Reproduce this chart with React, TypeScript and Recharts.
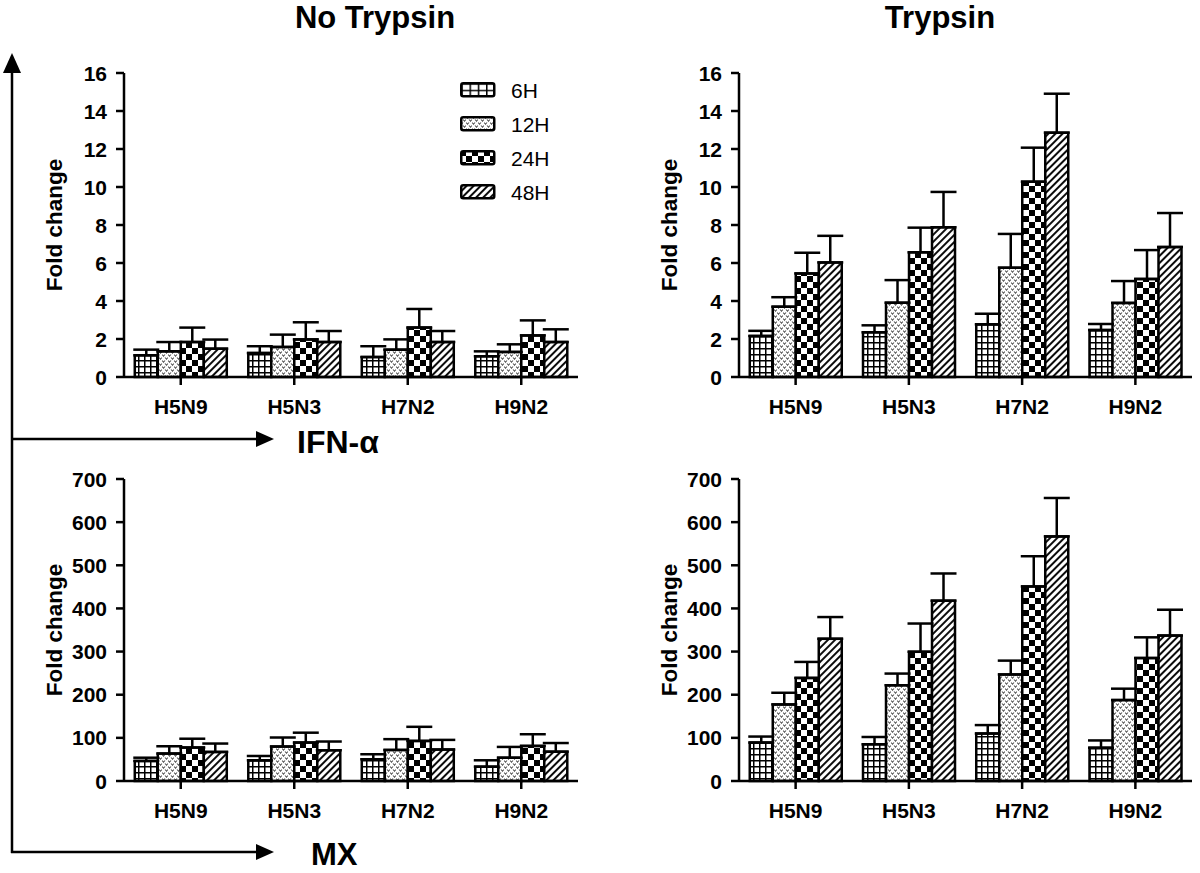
import { BarChart, Bar, XAxis, YAxis, ErrorBar, Legend } from "recharts";

const groups = ["H5N9", "H5N3", "H7N2", "H9N2"];
const times = ["6H", "12H", "24H", "48H"];
const patternIds = ["p6h", "p12h", "p24h", "p48h"];

// rows: 6H, 12H, 24H, 48H; columns follow `groups`
const ifnNoTrypsinMean = [
    [1.14, 1.26, 1.05, 1.09],
    [1.35, 1.58, 1.44, 1.32],
    [1.84, 1.98, 2.6, 2.19],
    [1.49, 1.84, 1.84, 1.84],
];
const ifnNoTrypsinErr = [
    [0.3, 0.36, 0.57, 0.26],
    [0.49, 0.65, 0.54, 0.4],
    [0.76, 0.9, 0.98, 0.79],
    [0.48, 0.58, 0.58, 0.67],
];
const ifnTrypsinMean = [
    [2.16, 2.35, 2.77, 2.47],
    [3.7, 3.91, 5.75, 3.9],
    [5.45, 6.56, 10.28, 5.16],
    [6.03, 7.88, 12.86, 6.84],
];
const ifnTrypsinErr = [
    [0.27, 0.37, 0.56, 0.32],
    [0.5, 1.19, 1.78, 1.15],
    [1.09, 1.3, 1.79, 1.52],
    [1.4, 1.86, 2.05, 1.79],
];
const mxNoTrypsinMean = [
    [46.5, 48, 50.4, 33.3],
    [63.5, 79.8, 72, 54],
    [77.5, 89, 93, 81.4],
    [67.4, 71.3, 72.9, 68],
];
const mxNoTrypsinErr = [
    [7.5, 10, 11.6, 14.7],
    [17, 21, 25, 25],
    [20.5, 23, 32.6, 27],
    [19.4, 20.2, 22.4, 20],
];
const mxTrypsinMean = [
    [89, 85, 110, 77],
    [177.5, 222, 247, 187.5],
    [239, 299.5, 451, 285],
    [329.6, 418, 567, 337],
];
const mxTrypsinErr = [
    [14, 17, 19.6, 17],
    [27, 27, 32, 26.5],
    [37, 65.5, 70, 48],
    [50.4, 63, 89, 60],
];

const ifnTicks = [0, 2, 4, 6, 8, 10, 12, 14, 16];
const mxTicks = [0, 100, 200, 300, 400, 500, 600, 700];

const font = "'Liberation Sans', Arial, Helvetica, sans-serif";

function buildRows(means: number[][], errs: number[][]) {
    return groups.map((g, i) => {
        const row: any = { group: g };
        times.forEach((t, k) => {
            row[t] = means[k][i];
            row["err" + t] = [0, errs[k][i]];
        });
        return row;
    });
}

function Patterns() {
    return (
        <svg width={0} height={0} style={{ position: "absolute" }}>
            <defs>
                <pattern id="p6h" width={6} height={6} patternUnits="userSpaceOnUse">
                    <rect width={6} height={6} fill="#fff" />
                    <path d="M0 0.75H6M0.75 0V6" stroke="#000" strokeWidth={1.5} />
                </pattern>
                <pattern id="p12h" width={6} height={6} patternUnits="userSpaceOnUse">
                    <rect width={6} height={6} fill="#fff" />
                    <path d="M0.3 0.5L1.5 2.4L2.7 0.5M3.3 3.5L4.5 5.4L5.7 3.5" stroke="#222" strokeWidth={1} fill="none" />
                </pattern>
                <pattern id="p24h" width={12} height={12} patternUnits="userSpaceOnUse">
                    <rect width={12} height={12} fill="#fff" />
                    <rect width={6} height={6} fill="#000" />
                    <rect x={6} y={6} width={6} height={6} fill="#000" />
                </pattern>
                <pattern id="p48h" width={5} height={5} patternUnits="userSpaceOnUse" patternTransform="rotate(45)">
                    <rect width={5} height={5} fill="#fff" />
                    <line x1={1} y1={0} x2={1} y2={5} stroke="#000" strokeWidth={1.9} />
                </pattern>
                <pattern id="p6hLegend" width={8.25} height={6.5} patternUnits="userSpaceOnUse" x={1.25} y={1.25}>
                    <rect width={8.25} height={6.5} fill="#fff" />
                    <path d="M0 0.75H8.25M0.75 0V6.5" stroke="#000" strokeWidth={1.5} />
                </pattern>
            </defs>
        </svg>
    );
}

function renderLegend() {
    return (
        <div style={{ fontFamily: font }}>
            {times.map((t, k) => (
                <div key={t} style={{ display: "flex", alignItems: "center", height: 34 }}>
                    <svg width={36} height={16}>
                        <rect
                            x={1.25}
                            y={1.25}
                            width={33}
                            height={13}
                            rx={2}
                            fill={`url(#${k === 0 ? "p6hLegend" : patternIds[k]})`}
                            stroke="#000"
                            strokeWidth={2.5}
                        />
                    </svg>
                    <span style={{ marginLeft: 15, fontSize: 21, lineHeight: "21px", color: "#000" }}>{t}</span>
                </div>
            ))}
        </div>
    );
}

function YTick({ x, y, payload }: any) {
    return (
        <text x={x} y={y} dy="0.36em" textAnchor="end" fontSize={21} fontWeight={700} fill="#000" fontFamily={font}>
            {payload.value}
        </text>
    );
}

function XTick({ x, y, payload }: any) {
    return (
        <text x={x} y={y} dy="0.71em" textAnchor="middle" fontSize={21} fontWeight={700} fill="#000" fontFamily={font}>
            {payload.value}
        </text>
    );
}

interface PanelProps {
    left: number;
    top: number;
    width: number;
    rightMargin: number;
    xHeight: number;
    data: any[];
    ticks: number[];
    showLegend?: boolean;
}

function Panel({ left, top, width, rightMargin, xHeight, data, ticks, showLegend }: PanelProps) {
    const axisStyle = { stroke: "#000", strokeWidth: 2.5 };
    return (
        <div style={{ position: "absolute", left, top }}>
            <BarChart
                width={width}
                height={430}
                data={data}
                margin={{ top: 73, right: rightMargin, left: 0, bottom: 0 }}
                barCategoryGap="9.5%"
                barGap={0}
            >
                <XAxis
                    dataKey="group"
                    height={xHeight}
                    axisLine={axisStyle}
                    tickLine={axisStyle}
                    tickSize={8}
                    tickMargin={14}
                    tick={<XTick />}
                />
                <YAxis
                    width={124}
                    domain={[0, ticks[ticks.length - 1]]}
                    ticks={ticks}
                    interval={0}
                    axisLine={axisStyle}
                    tickLine={axisStyle}
                    tickSize={8}
                    tickMargin={9}
                    tick={<YTick />}
                    label={{
                        value: "Fold change",
                        angle: -90,
                        position: "insideLeft",
                        offset: 54,
                        style: { textAnchor: "middle", fill: "#000", fontSize: 22.5, fontWeight: 700 },
                    }}
                />
                {times.map((t, k) => (
                    <Bar
                        key={t}
                        dataKey={t}
                        name={t}
                        fill={`url(#${patternIds[k]})`}
                        stroke="#000"
                        strokeWidth={2.5}
                        isAnimationActive={false}
                    >
                        <ErrorBar dataKey={"err" + t} width={13} stroke="#000" strokeWidth={2.5} />
                    </Bar>
                ))}
                {showLegend && (
                    <Legend
                        layout="vertical"
                        align="center"
                        verticalAlign="middle"
                        content={renderLegend}
                        wrapperStyle={{ left: 460, top: 73, width: 130 }}
                    />
                )}
            </BarChart>
        </div>
    );
}

export default function App() {
    return (
        <div
            style={{
                position: "absolute",
                left: 0,
                top: 0,
                width: 1200,
                height: 873,
                overflow: "hidden",
                background: "#fff",
                fontFamily: font,
            }}
        >
            <Patterns />
            <Panel left={0} top={0} width={600} rightMargin={22} xHeight={53} data={buildRows(ifnNoTrypsinMean, ifnNoTrypsinErr)} ticks={ifnTicks} showLegend />
            <Panel left={615} top={0} width={585} rightMargin={8} xHeight={53} data={buildRows(ifnTrypsinMean, ifnTrypsinErr)} ticks={ifnTicks} />
            <Panel left={0} top={406} width={600} rightMargin={22} xHeight={55} data={buildRows(mxNoTrypsinMean, mxNoTrypsinErr)} ticks={mxTicks} />
            <Panel left={615} top={406} width={585} rightMargin={8} xHeight={55} data={buildRows(mxTrypsinMean, mxTrypsinErr)} ticks={mxTicks} />
            <svg width={1200} height={873} style={{ position: "absolute", left: 0, top: 0, pointerEvents: "none" }}>
                <text x={375} y={28} textAnchor="middle" fontSize={31} fontWeight={700} fill="#000">No Trypsin</text>
                <text x={940} y={28} textAnchor="middle" fontSize={31} fontWeight={700} fill="#000">Trypsin</text>
                <line x1={12} y1={853} x2={12} y2={70} stroke="#000" strokeWidth={2.5} />
                <polygon points="12,53 3,73 21,73" fill="#000" />
                <line x1={11} y1={439} x2={258} y2={439} stroke="#000" strokeWidth={2.5} />
                <polygon points="274,439 256,431 256,447" fill="#000" />
                <line x1={11} y1={852} x2={258} y2={852} stroke="#000" strokeWidth={2.5} />
                <polygon points="274,852 256,844 256,860" fill="#000" />
                <text x={297} y={453} fontSize={32} fontWeight={700} fill="#000">IFN-α</text>
                <text x={311} y={865} fontSize={31} fontWeight={700} fill="#000">MX</text>
            </svg>
        </div>
    );
}
